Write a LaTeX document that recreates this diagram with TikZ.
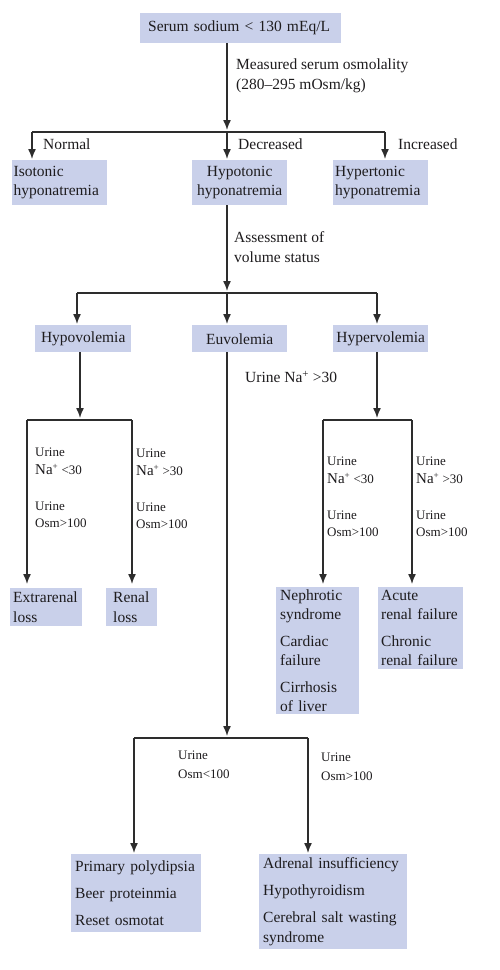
\documentclass[tikz,border=0pt]{standalone}
\usepackage{fontspec}
\setmainfont{Liberation Serif}
\usetikzlibrary{arrows.meta}
\definecolor{boxblue}{RGB}{201,208,234}
\definecolor{txt}{RGB}{30,28,30}
\definecolor{lncol}{RGB}{45,45,45}
\newcommand\mainsz{\fontsize{15.5}{19.5}\selectfont}
\newcommand\smsz{\fontsize{13}{17.5}\selectfont}
\newcommand\nasym{{\fontsize{15}{17.5}\selectfont Na}\textsuperscript{+}}
\begin{document}
\begin{tikzpicture}[x=1pt,y=-1pt,
  box/.style={fill=boxblue, text=txt, font=\mainsz, inner ysep=0pt, anchor=north west},
  lbl/.style={text=txt, font=\mainsz, inner sep=0pt, anchor=west, align=left},
  slbl/.style={lbl, font=\smsz},
  conn/.style={draw=lncol, line width=1.4pt},
  arr/.style={conn, -{Latex[length=10pt,width=8pt]}, shorten >=1pt}]
\useasboundingbox[fill=white] (0,0) rectangle (500,970);

% boxes
\node[box, minimum height=30pt, inner xsep=8pt, text width=185pt, align=left] (top) at (140,13) {Serum sodium < 130 mEq/L};
\node[box, minimum height=45pt, inner xsep=1.5pt, text width=92pt, align=left] (iso) at (12,160) {Isotonic\\hyponatremia};
\node[box, minimum height=45pt, inner xsep=2pt, text width=91pt, align=center] (hypo) at (192,160) {Hypotonic\\hyponatremia};
\node[box, minimum height=45pt, inner xsep=2pt, text width=91pt, align=left] (hyper) at (333,160) {Hypertonic\\hyponatremia};
\node[box, minimum height=27pt, inner xsep=2pt, text width=92pt, align=center] (hypov) at (35,325) {Hypovolemia};
\node[box, minimum height=27pt, inner xsep=2pt, text width=91pt, align=center] (euv) at (192,325) {Euvolemia};
\node[box, minimum height=27pt, inner xsep=1pt, text width=93pt, align=center] (hyperv) at (333,325) {Hypervolemia};
\node[box, minimum height=38pt, inner xsep=3pt, text width=66pt, align=left] (extr) at (10,588) {Extrarenal\\loss};
\node[box, minimum height=38pt, inner xsep=7pt, text width=37pt, align=left] (ren) at (106,588) {Renal\\loss};
\node[box, minimum height=127pt, inner xsep=4pt, text width=75pt, align=left] (neph) at (276,587) {Nephrotic\\syndrome\\[7pt]Cardiac\\failure\\[7pt]Cirrhosis\\of liver};
\node[box, minimum height=82pt, inner xsep=3pt, text width=79pt, align=left] (acute) at (378,587) {Acute\\renal failure\\[7pt]Chronic\\renal failure};
\node[box, minimum height=78pt, inner xsep=4pt, text width=122pt, align=left] (prim) at (71,854) {Primary polydipsia\\[7.5pt]Beer proteinmia\\[7.5pt]Reset osmotat};
\node[box, minimum height=95pt, inner xsep=4pt, text width=140pt, align=left] (adr) at (259,854) {Adrenal insufficiency\\[7.5pt]Hypothyroidism\\[7.5pt]Cerebral salt wasting\\syndrome};

% junctions
\coordinate (j1) at (227,132); \coordinate (j1l) at (32,132); \coordinate (j1r) at (385,132);
\coordinate (j2) at (227,293); \coordinate (j2l) at (77,293); \coordinate (j2r) at (377,293);
\coordinate (j3) at (80,420);  \coordinate (j3l) at (27,420); \coordinate (j3r) at (132,420);
\coordinate (j4) at (377,420); \coordinate (j4l) at (323,420); \coordinate (j4r) at (412,420);
\coordinate (j5) at (227,738); \coordinate (j5l) at (134,738); \coordinate (j5r) at (308,738);

% connectors
\draw[arr, shorten >=2pt] (j1 |- top.south) -- (j1);
\draw[conn] (j1l) -- (j1r);
\draw[arr] (j1l) -- (j1l |- iso.north);
\draw[arr] (j1) -- (j1 |- hypo.north);
\draw[arr] (j1r) -- (j1r |- hyper.north);

\draw[arr, shorten >=2pt] (j2 |- hypo.south) -- (j2);
\draw[conn] (j2l) -- (j2r);
\draw[arr] (j2l) -- (j2l |- hypov.north);
\draw[arr] (j2) -- (j2 |- euv.north);
\draw[arr] (j2r) -- (j2r |- hyperv.north);

\draw[arr, shorten >=2pt] (j3 |- hypov.south) -- (j3);
\draw[conn] (j3l) -- (j3r);
\draw[arr, shorten >=4pt] (j3l) -- (j3l |- extr.north);
\draw[arr, shorten >=4pt] (j3r) -- (j3r |- ren.north);

\draw[arr, shorten >=2pt] (j4 |- hyperv.south) -- (j4);
\draw[conn] (j4l) -- (j4r);
\draw[arr, shorten >=3pt] (j4l) -- (j4l |- neph.north);
\draw[arr, shorten >=3pt] (j4r) -- (j4r |- acute.north);

\draw[arr, shorten >=2pt] (j5 |- euv.south) -- (j5);
\draw[conn] (j5l) -- (j5r);
\draw[arr] (j5l) -- (j5l |- prim.north);
\draw[arr] (j5r) -- (j5r |- adr.north);

% labels
\node[lbl] (lmeas) at (236,76) {Measured serum osmolality\\(280–295 mOsm/kg)};
\node[lbl] (lnorm) at (43,144) {Normal};
\node[lbl] (ldec) at (238,144) {Decreased};
\node[lbl] (linc) at (398,144) {Increased};
\node[lbl] (lass) at (234,247) {Assessment of\\volume status};
\node[lbl] (lurna) at (245,377) {Urine Na\textsuperscript{+} >30};

\node[slbl] (la1) at (35,488) {Urine\\\nasym\ <30\\[18.5pt]Urine\\Osm>100};
\node[slbl] (la2) at (136,489) {Urine\\\nasym\ >30\\[18.5pt]Urine\\Osm>100};
\node[slbl] (la3) at (327,497) {Urine\\\nasym\ <30\\[18.5pt]Urine\\Osm>100};
\node[slbl] (la4) at (416,497) {Urine\\\nasym\ >30\\[18.5pt]Urine\\Osm>100};
\node[slbl] (la5) at (178,765) {Urine\\[1.5pt]Osm<100};
\node[slbl] (la6) at (321,767) {Urine\\[1.5pt]Osm>100};
\end{tikzpicture}
\end{document}
